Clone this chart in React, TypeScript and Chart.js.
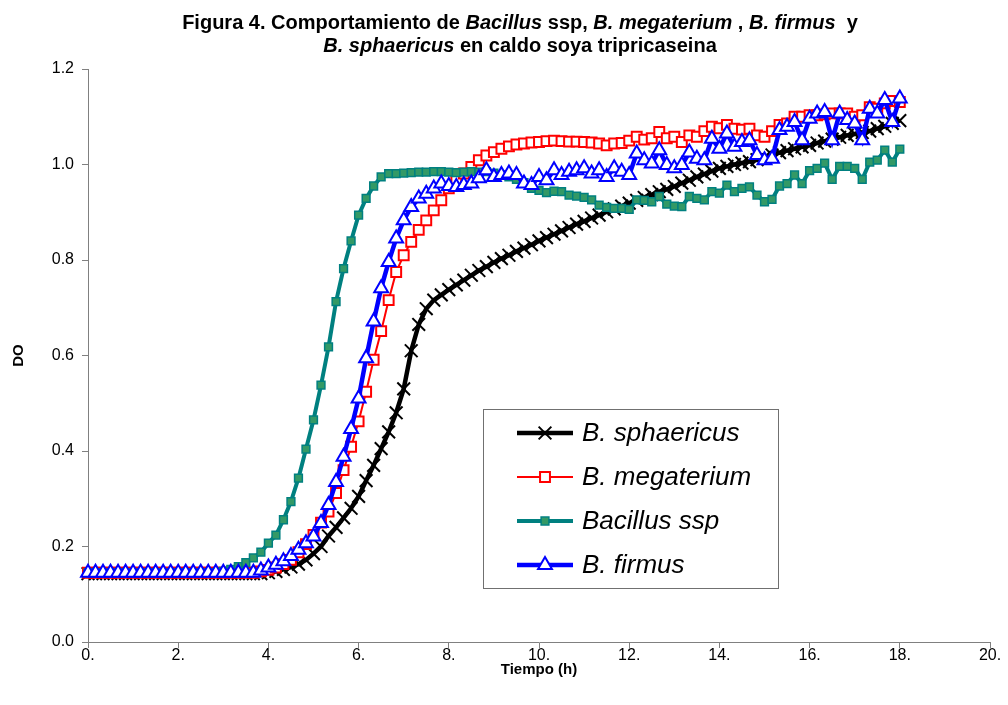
import React, { useEffect, useRef } from "react";
import { Chart, registerables } from "chart.js";

Chart.register(...registerables);

const FONT = "'Liberation Sans', Arial, Helvetica, sans-serif";

// Sampling schedule: one reading every 10 minutes, 0 h to 18 h (109 readings)
const SAMPLE_STEP_H = 1 / 6;
const SAMPLE_COUNT = 109;

const seriesLabels = ["B. sphaericus", "B. megaterium", "Bacillus ssp", "B. firmus"];

const sphaericus = [
  0.143, 0.143, 0.143, 0.143, 0.143, 0.143, 0.143, 0.143, 0.143, 0.143,
  0.143, 0.143, 0.143, 0.143, 0.143, 0.143, 0.143, 0.143, 0.143, 0.143,
  0.143, 0.143, 0.143, 0.143, 0.145, 0.148, 0.152, 0.157, 0.163, 0.172,
  0.185, 0.2, 0.222, 0.24, 0.26, 0.28, 0.305, 0.338, 0.37, 0.405,
  0.44, 0.48, 0.53, 0.61, 0.665, 0.698, 0.716, 0.727, 0.738, 0.748,
  0.758, 0.768, 0.778, 0.786, 0.795, 0.803, 0.81, 0.818, 0.825, 0.832,
  0.84, 0.847, 0.854, 0.861, 0.868, 0.875, 0.881, 0.888, 0.894, 0.901,
  0.907, 0.913, 0.919, 0.925, 0.931, 0.937, 0.943, 0.948, 0.954, 0.961,
  0.967, 0.974, 0.98, 0.986, 0.992, 0.996, 1.0, 1.003, 1.006, 1.01,
  1.015, 1.02, 1.025, 1.029, 1.033, 1.037, 1.04, 1.045, 1.049, 1.053,
  1.057, 1.061, 1.064, 1.067, 1.07, 1.075, 1.08, 1.086, 1.092,
];

const megaterium = [
  0.145, 0.145, 0.145, 0.145, 0.145, 0.145, 0.145, 0.145, 0.145, 0.145,
  0.145, 0.145, 0.145, 0.145, 0.145, 0.145, 0.145, 0.145, 0.145, 0.145,
  0.145, 0.145, 0.145, 0.148, 0.151, 0.156, 0.163, 0.172, 0.188, 0.205,
  0.224, 0.25, 0.273, 0.312, 0.36, 0.409, 0.462, 0.524, 0.591, 0.651,
  0.716, 0.775, 0.81, 0.838, 0.863, 0.883, 0.904, 0.925, 0.95, 0.966,
  0.981, 0.995, 1.009, 1.019, 1.026, 1.033, 1.038, 1.042, 1.044, 1.046,
  1.047, 1.049, 1.05, 1.049, 1.048, 1.048, 1.047, 1.046, 1.044, 1.04,
  1.044, 1.045, 1.05, 1.058, 1.052, 1.055, 1.068, 1.055, 1.058, 1.047,
  1.061, 1.058, 1.07, 1.079, 1.076, 1.083, 1.075, 1.073, 1.075, 1.061,
  1.058, 1.07, 1.083, 1.086, 1.1, 1.1, 1.103, 1.103, 1.105, 1.107,
  1.107, 1.107, 1.1, 1.103, 1.12, 1.117, 1.128, 1.133, 1.131,
];

const bacillusSsp = [
  0.145, 0.145, 0.145, 0.145, 0.145, 0.145, 0.145, 0.145, 0.145, 0.145,
  0.145, 0.145, 0.145, 0.145, 0.145, 0.145, 0.145, 0.145, 0.148, 0.152,
  0.158, 0.166, 0.176, 0.188, 0.207, 0.224, 0.256, 0.294, 0.343, 0.404,
  0.465, 0.538, 0.618, 0.713, 0.782, 0.84, 0.894, 0.929, 0.955, 0.974,
  0.981, 0.981, 0.982, 0.983, 0.984, 0.984, 0.985, 0.985, 0.984, 0.983,
  0.984, 0.985, 0.984, 0.985, 0.982, 0.978, 0.974, 0.969, 0.962, 0.95,
  0.946, 0.941, 0.944, 0.943, 0.936, 0.934, 0.931, 0.926, 0.915, 0.91,
  0.908, 0.908, 0.906, 0.926, 0.925, 0.922, 0.933, 0.917, 0.913, 0.912,
  0.933, 0.929, 0.926, 0.943, 0.94, 0.957, 0.943, 0.95, 0.953, 0.936,
  0.922, 0.927, 0.955, 0.96, 0.978, 0.96, 0.987, 0.992, 1.003, 0.969,
  0.996, 0.996, 0.992, 0.969, 1.005, 1.009, 1.03, 1.005, 1.032,
];

const firmus = [
  0.145, 0.145, 0.145, 0.145, 0.145, 0.145, 0.145, 0.145, 0.145, 0.145,
  0.145, 0.145, 0.145, 0.145, 0.145, 0.145, 0.145, 0.145, 0.145, 0.145,
  0.145, 0.145, 0.145, 0.15, 0.156, 0.162, 0.169, 0.18, 0.193, 0.207,
  0.221, 0.249, 0.287, 0.335, 0.388, 0.446, 0.51, 0.594, 0.671, 0.741,
  0.796, 0.845, 0.883, 0.911, 0.929, 0.939, 0.95, 0.96, 0.955, 0.953,
  0.957, 0.96, 0.971, 0.988, 0.974, 0.978, 0.981, 0.978, 0.96, 0.957,
  0.974, 0.967, 0.988, 0.978, 0.985, 0.988, 0.992, 0.981, 0.988, 0.974,
  0.992, 0.985, 0.978, 1.023, 1.009, 1.002, 1.03, 0.999, 0.992, 0.999,
  1.025, 1.012, 1.009, 1.054, 1.033, 1.065, 1.037, 1.047, 1.051, 1.02,
  1.009, 1.012, 1.072, 1.079, 1.089, 1.051, 1.096, 1.107, 1.11, 1.051,
  1.107, 1.093, 1.086, 1.051, 1.117, 1.107, 1.135, 1.089, 1.138,
];

const xTickLabels = ["0.", "2.", "4.", "6.", "8.", "10.", "12.", "14.", "16.", "18.", "20."];
const yTickLabels = ["0.0", "0.2", "0.4", "0.6", "0.8", "1.0", "1.2"];

const titleLine1: [string, boolean][] = [
  ["Figura 4. Comportamiento de ", false],
  ["Bacillus", true],
  [" ssp, ", false],
  ["B. megaterium", true],
  [" , ", false],
  ["B. firmus", true],
  ["  y", false],
];
const titleLine2: [string, boolean][] = [
  ["B. sphaericus", true],
  [" en caldo soya tripricaseina", false],
];
const xAxisTitle = "Tiempo (h)";
const yAxisTitle = "DO";

type Style = {
  line: string;
  lineWidth: number;
  point: "crossRot" | "rect" | "triangle";
  radius: number;
  fill: string;
  stroke: string;
  pointLineWidth: number;
};

const styles: Style[] = [
  { line: "#000000", lineWidth: 4.5, point: "crossRot", radius: 9, fill: "#000000", stroke: "#000000", pointLineWidth: 2 },
  { line: "#FF0000", lineWidth: 2, point: "rect", radius: 7, fill: "#FFFFFF", stroke: "#FF0000", pointLineWidth: 2 },
  { line: "#008080", lineWidth: 4, point: "rect", radius: 5.5, fill: "#339966", stroke: "#008080", pointLineWidth: 1.5 },
  { line: "#0000FF", lineWidth: 4.5, point: "triangle", radius: 8, fill: "#FFFFFF", stroke: "#0000FF", pointLineWidth: 2 },
];

function drawRich(ctx: CanvasRenderingContext2D, segs: [string, boolean][], cx: number, cy: number, size: number) {
  const fontOf = (it: boolean) => `${it ? "italic " : ""}bold ${size}px ${FONT}`;
  let total = 0;
  for (const [t, it] of segs) {
    ctx.font = fontOf(it);
    total += ctx.measureText(t).width;
  }
  let x = cx - total / 2;
  ctx.textBaseline = "middle";
  ctx.textAlign = "left";
  for (const [t, it] of segs) {
    ctx.font = fontOf(it);
    ctx.fillText(t, x, cy);
    x += ctx.measureText(t).width;
  }
}

function drawMarker(ctx: CanvasRenderingContext2D, s: Style, x: number, y: number) {
  ctx.lineWidth = s.pointLineWidth;
  ctx.strokeStyle = s.stroke;
  ctx.fillStyle = s.fill;
  ctx.beginPath();
  if (s.point === "crossRot") {
    const o = s.radius * Math.SQRT1_2;
    ctx.moveTo(x - o, y - o);
    ctx.lineTo(x + o, y + o);
    ctx.moveTo(x + o, y - o);
    ctx.lineTo(x - o, y + o);
    ctx.stroke();
  } else if (s.point === "rect") {
    const h = s.radius * Math.SQRT1_2;
    ctx.rect(x - h, y - h, 2 * h, 2 * h);
    ctx.fill();
    ctx.stroke();
  } else {
    const r = s.radius;
    ctx.moveTo(x, y - r);
    ctx.lineTo(x + r * 0.866, y + r / 2);
    ctx.lineTo(x - r * 0.866, y + r / 2);
    ctx.closePath();
    ctx.fill();
    ctx.stroke();
  }
}

const decorPlugin = {
  id: "decor",
  afterDraw(chart: any) {
    const ctx: CanvasRenderingContext2D = chart.ctx;
    const area = chart.chartArea;
    ctx.save();
    ctx.fillStyle = "#000";
    drawRich(ctx, titleLine1, 520, 23, 20);
    drawRich(ctx, titleLine2, 520, 46, 20);

    // axis titles
    ctx.font = `bold 15px ${FONT}`;
    ctx.textAlign = "center";
    ctx.textBaseline = "middle";
    ctx.fillStyle = "#000";
    ctx.fillText(xAxisTitle, (area.left + area.right) / 2, 670);
    ctx.save();
    ctx.translate(19, (area.top + area.bottom) / 2);
    ctx.rotate(-Math.PI / 2);
    ctx.fillText(yAxisTitle, 0, 0);
    ctx.restore();

    // legend box
    const bx = 483, by = 409, bw = 295, bh = 179;
    ctx.fillStyle = "#FFFFFF";
    ctx.fillRect(bx, by, bw, bh);
    ctx.strokeStyle = "#707070";
    ctx.lineWidth = 1;
    ctx.strokeRect(bx + 0.5, by + 0.5, bw, bh);
    const rowsY = [433, 477, 521, 565];
    seriesLabels.forEach((label, i) => {
      const s = styles[i];
      const y = rowsY[i];
      ctx.strokeStyle = s.line;
      ctx.lineWidth = s.lineWidth;
      ctx.beginPath();
      ctx.moveTo(517, y);
      ctx.lineTo(573, y);
      ctx.stroke();
      drawMarker(ctx, s, 545, y);
      ctx.fillStyle = "#000";
      ctx.font = `italic 26px ${FONT}`;
      ctx.textAlign = "left";
      ctx.textBaseline = "middle";
      ctx.fillText(label, 582, y + 1);
    });
    ctx.restore();
  },
};

export default function App() {
  const ref = useRef<HTMLCanvasElement | null>(null);
  useEffect(() => {
    if (!ref.current) return;
    const times: number[] = [];
    for (let i = 0; i < SAMPLE_COUNT; i++) times.push(i * SAMPLE_STEP_H);
    const values = [sphaericus, megaterium, bacillusSsp, firmus];
    const chart = new Chart(ref.current, {
      type: "line",
      data: {
        datasets: values.map((vals, k) => {
          const s = styles[k];
          return {
            label: seriesLabels[k],
            data: vals.map((v, i) => ({ x: times[i], y: v })),
            borderColor: s.line,
            borderWidth: s.lineWidth,
            backgroundColor: s.fill,
            pointStyle: s.point,
            pointRadius: s.radius,
            pointBackgroundColor: s.fill,
            pointBorderColor: s.stroke,
            pointBorderWidth: s.pointLineWidth,
            tension: 0,
            fill: false,
            clip: false as any,
            order: 4 - k,
          };
        }),
      },
      options: {
        animation: false,
        responsive: false,
        devicePixelRatio: 1,
        layout: { padding: { top: 69, right: 18, left: 0, bottom: 0 } },
        plugins: {
          legend: { display: false },
          title: { display: false },
          tooltip: { enabled: false },
        },
        scales: {
          x: {
            type: "linear",
            min: 0,
            max: 20,
            ticks: {
              stepSize: 2,
              autoSkip: false,
              maxRotation: 0,
              padding: -2,
              color: "#000",
              font: { size: 16, family: FONT },
              callback: (_v: any, i: number) => xTickLabels[i],
            },
            grid: { drawOnChartArea: false, drawTicks: true, tickLength: 6, color: "#808080" },
            border: { display: true, color: "#808080", width: 1 },
            afterFit: (s: any) => { s.height = 63; },
          },
          y: {
            min: 0,
            max: 1.2,
            ticks: {
              stepSize: 0.2,
              padding: 8,
              color: "#000",
              font: { size: 16, family: FONT },
              callback: (_v: any, i: number) => yTickLabels[i],
            },
            grid: { drawOnChartArea: false, drawTicks: true, tickLength: 6, color: "#808080" },
            border: { display: true, color: "#808080", width: 1 },
            afterFit: (s: any) => { s.width = 88; },
          },
        },
      },
      plugins: [decorPlugin],
    });
    return () => chart.destroy();
  }, []);
  return (
    <div style={{ position: "fixed", left: 0, top: 0, width: 1008, height: 705, background: "#fff" }}>
      <canvas ref={ref} width={1008} height={705} style={{ width: 1008, height: 705 }} />
    </div>
  );
}
